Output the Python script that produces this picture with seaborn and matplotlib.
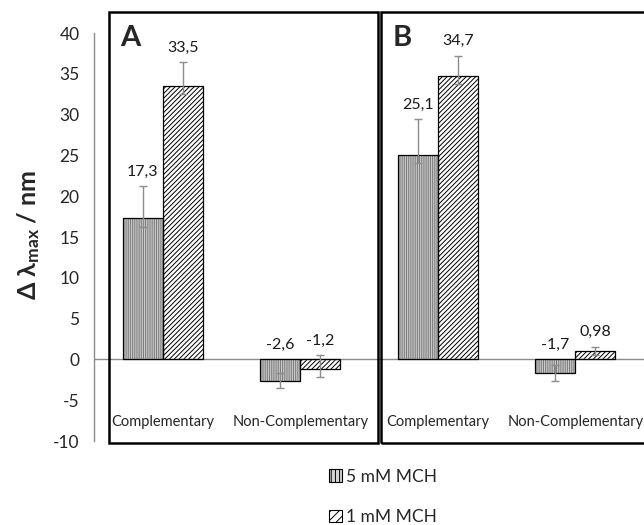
import numpy as np
import pandas as pd
import matplotlib
matplotlib.use("Agg")
import matplotlib.pyplot as plt
import matplotlib.patches as mpatches
import seaborn as sns

# data
groups = ['A Complementary', 'A Non-Complementary', 'B Complementary', 'B Non-Complementary']
group_labels = ['Complementary', 'Non-Complementary', 'Complementary', 'Non-Complementary']
series = ['5 mM MCH', '1 mM MCH']
vals_5mm = [17.3, -2.6, 25.1, -1.7]
vals_1mm = [33.5, -1.2, 34.7, 0.98]
err_lo_5mm = [1.1, 0.9, 1.0, 1.0]
err_hi_5mm = [3.9, 0.9, 4.3, 1.0]
err_lo_1mm = [1.0, 1.0, 1.0, 0.5]
err_hi_1mm = [2.9, 1.7, 2.5, 0.6]
text_5mm = ['17,3', '-2,6', '25,1', '-1,7']
text_1mm = ['33,5', '-1,2', '34,7', '0,98']

df = pd.DataFrame({
    'group': groups * 2,
    'series': [series[0]] * 4 + [series[1]] * 4,
    'value': vals_5mm + vals_1mm,
})

sns.set_style("white")
plt.rcParams['font.family'] = ['Lato', 'DejaVu Sans']
plt.rcParams['mathtext.default'] = 'regular'
plt.rcParams['axes.unicode_minus'] = False
plt.rcParams['hatch.linewidth'] = 0.7

fig = plt.figure(figsize=(6.44, 5.25), dpi=100)
ax = fig.add_axes([94/644, 1 - 441/525, 550/644, 408/525])

sns.barplot(data=df, x='group', y='value', hue='series', order=groups,
            hue_order=series, width=0.58, errorbar=None, legend=False, ax=ax)

# fill, hatch, hatch colour for each series
styles = [dict(facecolor='#d4d4d4', hatch='|' * 9, hcolor='#7a7a7a'),
          dict(facecolor='white', hatch='/' * 7, hcolor='black')]
errs = [(err_lo_5mm, err_hi_5mm), (err_lo_1mm, err_hi_1mm)]
texts = [text_5mm, text_1mm]
vals = [vals_5mm, vals_1mm]

for cont, st, (lo, hi), tx, v in zip(ax.containers, styles, errs, texts, vals):
    xs = []
    for bar in cont:
        bar.set_facecolor(st['facecolor'])
        bar.set_hatch(st['hatch'])
        bar.set_edgecolor(st['hcolor'])
        bar.set_linewidth(0)
        # black outline on top of the hatch
        ax.add_patch(mpatches.Rectangle(bar.get_xy(), bar.get_width(), bar.get_height(),
                                        fill=False, edgecolor='black', lw=0.9, zorder=3))
        xs.append(bar.get_x() + bar.get_width() / 2)
    ax.errorbar(xs, v, yerr=[lo, hi], fmt='none', ecolor='#8c8c8c',
                elinewidth=1, capsize=3, capthick=1, zorder=5)
    for x, val, h, t in zip(xs, v, hi, tx):
        top = max(0, val + h)
        ax.annotate(t, (x, top), xytext=(0, 10.5), textcoords='offset points',
                    ha='center', va='center', fontsize=11.5, color='#1a1a1a')

ax.axhline(0, color='#8c8c8c', lw=1, zorder=1)
ax.set_xlim(-0.5, 3.5)
ax.set_ylim(-10, 40)
ax.set_yticks(np.arange(-10, 41, 5))
ax.set_xticks(range(len(groups)))
ax.set_xticklabels(group_labels, fontsize=10.5)
ax.tick_params(axis='x', length=0, pad=-19)
ax.tick_params(axis='y', length=6.5, width=1, color='#8c8c8c', labelsize=12.5,
               direction='out', pad=4)
ax.set_xlabel('')
ax.set_ylabel('Δ λ$_{max}$ / nm', fontsize=18, fontweight='bold')
ax.yaxis.set_label_coords(-0.095, 0.505)

for s in ['top', 'right', 'bottom']:
    ax.spines[s].set_visible(False)
ax.spines['left'].set_color('#8c8c8c')
ax.spines['left'].set_linewidth(1)

# panel frames
fig.patches.append(mpatches.Rectangle((109/644, 1 - 443/525), 269/644, 431/525,
                                      transform=fig.transFigure, fill=False,
                                      edgecolor='black', lw=1.8))
fig.patches.append(mpatches.Rectangle((381/644, 1 - 443/525), 270/644, 431/525,
                                      transform=fig.transFigure, fill=False,
                                      edgecolor='black', lw=1.8))
fig.text(130/644, 1 - 38/525, 'A', fontsize=21, fontweight='bold', ha='center', va='center')
fig.text(402/644, 1 - 38/525, 'B', fontsize=21, fontweight='bold', ha='center', va='center')

handles = [mpatches.Patch(facecolor=st['facecolor'], hatch=st['hatch'][:4],
                          edgecolor='black', lw=0.8) for st in styles]
fig.legend(handles, series, loc='center', bbox_to_anchor=(383/644, 1 - 497/525),
           frameon=False, fontsize=12.5, labelspacing=1.4, handlelength=0.75,
           handleheight=0.75, handletextpad=0.25)

fig.savefig('out.png', dpi=100)
